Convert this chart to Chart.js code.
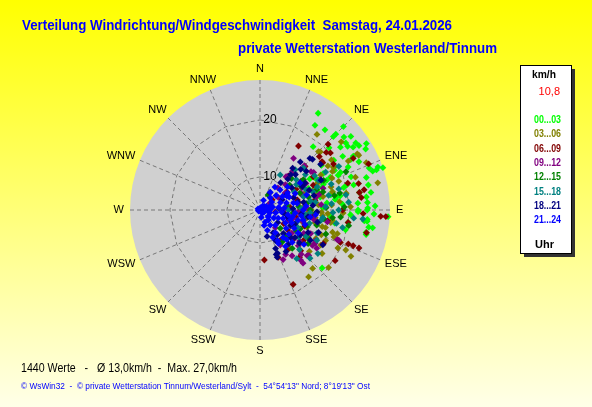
<!DOCTYPE html>
<html>
<head>
<meta charset="utf-8">
<title>Verteilung Windrichtung/Windgeschwindigkeit</title>
<script src="https://cdn.jsdelivr.net/npm/chart.js@4.4.1/dist/chart.umd.min.js"></script>
<style>
  html, body { margin: 0; padding: 0; width: 592px; height: 407px; overflow: hidden; background: #ffff00; }
  #rose { display: block; }
</style>
</head>
<body>
<canvas id="rose" width="592" height="407"></canvas>
<script>
// compass labels, clockwise from north
const directions = ['N', 'NNE', 'NE', 'ENE', 'E', 'ESE', 'SE', 'SSE', 'S', 'SSW', 'SW', 'WSW', 'W', 'WNW', 'NW', 'NNW'];
// speed rings (km/h) and the range of the radial axis
const speedTicks = [10, 20];
const RMIN = 4.2;
const RMAX = 27;

// legend / time groups
const timeGroups = ['00...03', '03...06', '06...09', '09...12', '12...15', '15...18', '18...21', '21...24'];
const groupColors = ['#00ff00', '#808000', '#800000', '#800080', '#008000', '#008080', '#000080', '#0000ff'];

// readings [direction in degrees, speed in km/h]
const g0003 = [[31,24.0],[33,21.9],[39,22.3],[45,24.9],[45,22.4],[51,24.7],[40,18.7],[52,22.1],[52,23.3],[56,23.9],
  [57,24.9],[58,26.2],[56,19.8],[57,21.5],[60,23.1],[64,23.5],[70,26.2],[71,27.0],[71,25.1],[73,23.7],
  [64,21.4],[66,19.2],[65,17.8],[70,21.2],[75,21.2],[77,23.7],[80,21.9],[81,23.9],[83,23.0],[89,23.1],
  [90,21.4],[75,19.4],[80,18.0],[76,17.3],[86,23.1],[88,24.4],[93,26.7],[96,22.6],[96,23.1],[99,24.2],
  [103,23.3],[90,23.0],[86,18.7],[93,20.1],[98,19.8],[102,23.2],[91,21.4],[95,23.1],[99,23.5],[86,21.4],
  [133,19.1],[103,19.6],[78,16.9],[80,18.5],[45,23.0],[49,23.7],[54,23.2],[55,24.7],[60,25.6],[61,22.4],
  [60,19.2],[65,19.8],[69,24.7],[71,25.8],[92,24.2],[62,15.5],[68,16.2],[72,14.8],[60,17.0],[84,16.0],
  [88,15.2],[66,13.5],[54,17.5],[48,20.5],[62,19.0],[74,20.0],[100,17.5],[58,14.5],[70,15.8],[78,15.0],
  [82,17.5],[95,16.5],[66,17.0]];
const g0306 = [[37,20.8],[50,22.8],[61,24.0],[66,24.6],[77,25.4],[46,18.9],[61,21.9],[60,19.1],[70,18.9],[71,21.9],
  [88,20.1],[72,17.3],[79,19.6],[45,18.7],[60,23.9],[57,18.4],[62,18.6],[100,16.8],[115,20.8],[117,22.1],
  [130,19.9],[138,18.0],[144,18.7],[107,17.5],[107,18.4],[102,14.7],[127,13.8],[117,15.2],[142,12.7],[95,15.2],
  [105,16.1],[103,14.1],[105,15.5],[110,18.0],[116,19.4],[115,16.9],[94,12.5],[106,12.0],[65,15.3],[76,17.3],
  [69,12.7],[80,11.1],[81,13.6],[93,16.1],[85,14.5],[90,13.2],[98,17.0],[84,18.2],[92,18.8],[120,14.0],
  [110,13.0],[75,14.2],[66,18.0],[70,14.0],[78,15.5],[86,16.8],[92,15.0],[98,14.0],[100,12.5],[112,15.8],
  [120,16.5],[125,17.5],[130,15.5],[85,12.0],[60,16.5],[55,19.5]];
const g0609 = [[46,20.8],[61,22.9],[80,21.9],[92,22.3],[93,25.4],[49,19.6],[52,18.0],[73,20.3],[90,18.7],[31,17.3],
  [48,18.2],[53,18.0],[51,20.1],[79,22.8],[83,22.1],[67,24.9],[93,26.3],[75,22.1],[112,19.4],[111,20.8],
  [111,21.7],[111,22.8],[124,20.1],[156,18.5],[175,13.0],[159,13.1],[102,23.3],[98,19.8],[118,16.8],[56,9.9],
  [98,6.9],[126,10.2],[146,12.7],[135,14.3],[146,10.6],[58,19.4],[46,15.2],[58,15.2],[99,16.2],[101,10.6],
  [50,7.0],[70,12.0],[85,9.5],[110,12.5],[120,9.0],[65,14.5],[95,13.5],[130,12.0],[40,12.0],[55,13.0],
  [75,11.0],[80,14.0],[90,11.5],[105,10.0],[115,11.0],[125,13.5],[140,15.0],[60,11.5]];
const g0912 = [[33,15.0],[45,15.2],[38,11.6],[39,9.2],[121,15.5],[124,16.2],[137,14.8],[155,13.8],[111,19.0],[141,15.5],
  [141,16.2],[133,15.9],[124,15.3],[119,15.3],[111,18.7],[100,16.2],[39,11.8],[56,8.1],[55,6.3],[93,10.9],
  [77,14.3],[150,11.3],[134,15.7],[133,13.4],[126,11.1],[55,15.7],[71,15.9],[104,10.2],[139,8.3],[118,12.9],
  [56,9.5],[53,15.4],[63,16.1],[80,12.0],[90,8.5],[110,9.5],[70,10.5],[100,13.8],[85,15.0],[62,12.5],
  [45,10.5],[60,13.5],[68,12.0],[75,15.0],[88,12.5],[95,11.5],[105,12.0],[115,14.0],[128,13.0],[145,14.0],
  [150,13.2],[40,13.0],[50,8.0]];
const g1215 = [[28,7.2],[120,13.9],[96,17.0],[93,14.0],[132,9.0],[154,9.5],[132,11.1],[66,20.7],[95,18.4],[74,15.7],
  [79,17.5],[67,11.8],[113,10.9],[85,11.0],[75,13.0],[105,14.5],[60,12.5],[88,15.8],[100,12.0],[120,11.5],
  [140,13.0],[80,9.0],[110,16.5],[50,11.0],[95,10.0],[45,12.0],[55,13.5],[70,14.8],[82,12.5],[90,13.0],
  [98,15.5],[108,13.0],[115,12.0],[125,14.5],[135,10.5],[145,11.0],[65,16.5],[78,18.5],[88,19.0],[100,20.0]];
const g1518 = [[30,11.3],[41,13.6],[46,14.8],[63,15.7],[95,20.7],[95,22.3],[85,19.8],[87,15.7],[134,16.4],[143,14.9],
  [52,14.3],[60,17.5],[61,20.0],[90,9.2],[73,12.2],[71,14.0],[115,11.5],[127,16.9],[90,5.4],[96,12.2],
  [97,15.3],[78,16.5],[82,14.0],[100,17.8],[105,13.2],[66,13.0],[55,12.0],[88,11.5],[120,13.5],[112,15.0],
  [92,17.0],[75,18.5],[50,12.5],[58,15.5],[68,15.0],[80,13.2],[85,16.8],[93,13.0],[100,15.0],[108,11.0],
  [118,15.5],[125,12.5],[135,14.0],[70,17.5],[62,11.0],[90,18.0],[102,19.0],[80,19.5]];
const g1821 = [[46,17.0],[40,15.2],[41,12.4],[53,17.5],[44,16.8],[45,14.3],[64,16.1],[160,12.5],[150,8.8],[158,12.4],
  [119,16.8],[121,14.5],[153,10.2],[45,13.0],[59,13.4],[101,9.0],[61,12.7],[37,10.2],[30,7.7],[117,10.2],
  [111,15.2],[128,12.0],[158,11.5],[160,13.0],[97,8.3],[98,12.7],[70,10.5],[80,12.0],[88,10.0],[108,12.5],
  [135,10.0],[140,12.0],[75,14.0],[92,14.2],[55,11.0],[125,8.0],[65,8.5],[115,13.5],[42,11.5],[50,14.8],
  [68,13.5],[78,11.0],[85,13.5],[95,11.5],[102,14.5],[112,10.8],[122,12.5],[132,11.5],[145,9.5],[148,12.8],
  [165,9.0],[60,9.5],[85,7.5],[105,9.2],[130,13.2],[38,13.5]];
const g2124 = [[10,4.6],[90,4.7],[146,4.9],[131,6.1],[33,9.0],[77,6.5],[114,7.7],[117,9.2],[100,9.2],[95,10.4],
  [105,11.1],[78,10.2],[59,8.8],[58,9.9],[146,9.0],[146,7.4],[108,12.5],[121,12.0],[135,12.2],[151,10.9],
  [98,13.1],[157,6.5],[56,6.7],[45,9.2],[56,12.7],[103,12.0],[150,10.4],[70,8.0],[85,8.5],[80,10.8],
  [90,11.8],[100,7.0],[110,8.5],[125,9.8],[135,8.0],[65,11.0],[50,10.5],[88,6.0],[120,7.0],[140,10.5],
  [72,12.8],[95,14.0],[128,14.0],[60,5.5],[118,5.0],[160,8.0],[40,7.0],[105,6.0],[20,6.0],[30,7.8],
  [48,8.0],[62,9.5],[75,9.0],[82,7.5],[95,8.0],[102,10.0],[112,10.2],[118,11.0],[130,10.8],[138,11.2],
  [145,12.0],[155,9.5],[165,7.0],[170,5.5],[140,6.5],[125,6.0],[92,5.5],[70,6.0],[50,5.2],[35,5.0],
  [260,4.5],[300,4.6],[230,4.5],[108,9.8],[98,11.5],[85,12.3],[66,9.8]];
const groupData = [g0003, g0306, g0609, g0912, g1215, g1518, g1821, g2124];

// polar reading -> cartesian values for the scatter scales
function toXY(p) {
  const a = p[0] * Math.PI / 180;
  const r = p[1] - RMIN;
  return { x: r * Math.sin(a), y: r * Math.cos(a) };
}

function toPixel(chart, dir, speed) {
  const v = toXY([dir, speed]);
  return { x: chart.scales.x.getPixelForValue(v.x), y: chart.scales.y.getPixelForValue(v.y) };
}

const roseFrame = {
  id: 'roseFrame',
  beforeDraw(chart) {
    const ctx = chart.ctx;
    const c = toPixel(chart, 0, RMIN);
    const R = toPixel(chart, 90, RMAX).x - c.x;

    ctx.save();
    // yellow page background
    const bg = ctx.createLinearGradient(0, 0, 0, chart.height);
    bg.addColorStop(0, '#ffff00');
    bg.addColorStop(1, '#ffffe8');
    ctx.fillStyle = bg;
    ctx.fillRect(0, 0, chart.width, chart.height);

    // grey disk
    ctx.beginPath();
    ctx.arc(c.x, c.y, R, 0, Math.PI * 2);
    ctx.fillStyle = '#d0d0d0';
    ctx.fill();

    // dashed spokes and rings
    ctx.setLineDash([4, 3]);
    ctx.strokeStyle = '#787878';
    ctx.lineWidth = 1;
    directions.forEach((d, i) => {
      const p = toPixel(chart, i * 22.5, RMAX);
      ctx.beginPath();
      ctx.moveTo(c.x, c.y);
      ctx.lineTo(p.x, p.y);
      ctx.stroke();
    });
    speedTicks.forEach(t => {
      ctx.beginPath();
      directions.forEach((d, i) => {
        const p = toPixel(chart, i * 22.5, t);
        if (i === 0) ctx.moveTo(p.x, p.y); else ctx.lineTo(p.x, p.y);
      });
      ctx.closePath();
      ctx.stroke();
    });
    ctx.setLineDash([]);

    // direction labels
    ctx.font = '11px "Liberation Sans", Arial, sans-serif';
    ctx.fillStyle = '#000000';
    ctx.textAlign = 'center';
    ctx.textBaseline = 'middle';
    directions.forEach((d, i) => {
      const a = i * 22.5 * Math.PI / 180;
      const w = ctx.measureText(d).width;
      const x = c.x + (R + 6) * Math.sin(a) + Math.sin(a) * w / 2;
      const y = c.y - (R + 6) * Math.cos(a) - Math.cos(a) * 5;
      ctx.fillText(d, x, y);
    });

    // speed tick labels
    ctx.font = '12px "Liberation Sans", Arial, sans-serif';
    speedTicks.forEach(t => {
      const p = toPixel(chart, 0, t);
      ctx.fillText(String(t), p.x + 10, p.y);
    });

    // titles
    ctx.textAlign = 'left';
    ctx.fillStyle = '#0000ff';
    ctx.font = 'bold 15px "Liberation Sans", Arial, sans-serif';
    ctx.fillText('Verteilung Windrichtung/Windgeschwindigkeit  Samstag, 24.01.2026', 22, 26, 430);
    ctx.fillText('private Wetterstation Westerland/Tinnum', 238, 49, 259);

    // footer
    ctx.fillStyle = '#000000';
    ctx.font = '12px "Liberation Sans", Arial, sans-serif';
    ctx.fillText('1440 Werte   -   \u00d8 13,0km/h  -  Max. 27,0km/h', 21, 369, 216);
    ctx.fillStyle = '#0000ff';
    ctx.font = '9px "Liberation Sans", Arial, sans-serif';
    ctx.fillText('\u00a9 WsWin32  -  \u00a9 private Wetterstation Tinnum/Westerland/Sylt  -  54\u00b054\'13" Nord; 8\u00b019\'13" Ost', 21, 387, 349);

    // legend box with shadow
    ctx.fillStyle = '#333333';
    ctx.fillRect(524, 69, 51, 188);
    ctx.fillStyle = '#ffffff';
    ctx.fillRect(520, 65, 51, 188);
    ctx.strokeStyle = '#000000';
    ctx.strokeRect(520.5, 65.5, 51, 188);

    ctx.fillStyle = '#000000';
    ctx.font = 'bold 11px "Liberation Sans", Arial, sans-serif';
    ctx.fillText('km/h', 532, 75, 24);
    ctx.fillStyle = '#ff0000';
    ctx.font = '11px "Liberation Sans", Arial, sans-serif';
    ctx.textAlign = 'right';
    ctx.fillText('10,8', 560, 92);
    ctx.textAlign = 'left';
    ctx.font = 'bold 11px "Liberation Sans", Arial, sans-serif';
    timeGroups.forEach((t, i) => {
      ctx.fillStyle = groupColors[i];
      ctx.fillText(t, 534, 120 + i * 14.3, 27);
    });
    ctx.fillStyle = '#000000';
    ctx.fillText('Uhr', 535, 245, 19);
    ctx.restore();
  }
};

const ctx = document.getElementById('rose').getContext('2d');
const RANGE = RMAX - RMIN;

new Chart(ctx, {
  type: 'scatter',
  data: {
    datasets: groupData.map((g, i) => ({
      label: timeGroups[i],
      data: g.map(toXY),
      backgroundColor: groupColors[i],
      borderWidth: 0,
      pointStyle: 'rectRot',
      pointRadius: 3.4,
      order: groupData.length - 1 - i,
      clip: false
    }))
  },
  options: {
    responsive: false,
    animation: false,
    events: [],
    layout: { padding: { left: 130, top: 80, right: 202, bottom: 67 } },
    plugins: { legend: { display: false }, tooltip: { enabled: false } },
    scales: {
      x: { type: 'linear', min: -RANGE, max: RANGE, display: false },
      y: { type: 'linear', min: -RANGE, max: RANGE, display: false }
    }
  },
  plugins: [roseFrame]
});
</script>
</body>
</html>
